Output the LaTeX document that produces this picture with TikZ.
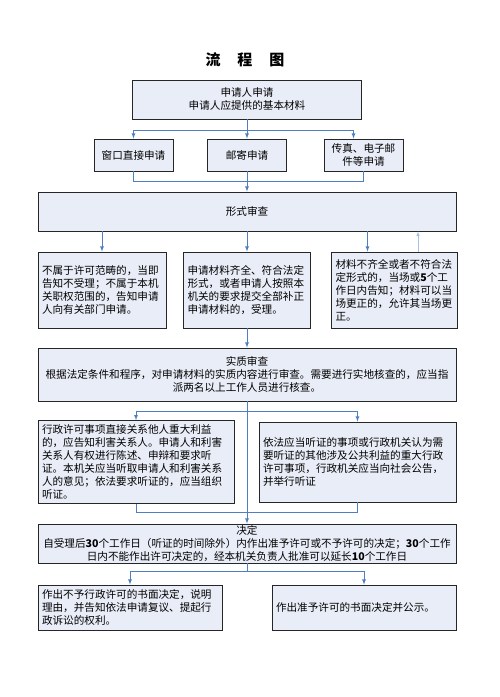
\documentclass[tikz,border=0pt]{standalone}
\usepackage{fontspec}
\setmainfont{Noto Sans CJK SC}
\definecolor{boxfill}{HTML}{E9EDF7}
\definecolor{linkblue}{HTML}{4F7FC0}
\definecolor{backblue}{HTML}{A8C0E4}

\begin{document}
\begin{tikzpicture}[x=1pt,y=-1pt,>=latex,
  box/.style={draw=black!85,line width=0.8pt,fill=boxfill,inner sep=4pt,font=\fontsize{10.6}{13}\selectfont},
  lbox/.style={box,align=left},
  cbox/.style={box,align=center},
  link/.style={draw=linkblue,line width=0.8pt}]
\useasboundingbox (0,0) rectangle (499,697);
% title
\node (T) at (245,60) {\fontsize{15}{18}\selectfont\bfseries 流\hspace{17pt}程\hspace{17pt}图};
% boxes
\node (P) [cbox,minimum width=229pt,minimum height=39pt] at (247,99.5) {申请人申请\\申请人应提供的基本材料};
\node (W) [cbox,minimum width=79pt,minimum height=32pt] at (133.5,155) {窗口直接申请};
\node (M) [cbox,minimum width=79pt,minimum height=32pt] at (247,155) {邮寄申请};
\node (X) [cbox,minimum width=79pt,minimum height=32pt] at (363.5,155) {传真、电子邮\\件等申请};
\node (R) [cbox,minimum width=418pt,minimum height=39pt] at (247,211.5) {形式审查};
\node (A) [lbox,text width=120pt,minimum height=76pt] at (102,290) {不属于许可范畴的，当即\\告知不受理；不属于本机\\关职权范围的，告知申请\\人向有关部门申请。};
\node (B) [lbox,text width=119pt,minimum height=76pt] at (247,290) {申请材料齐全、符合法定\\形式，或者申请人按照本\\机关的要求提交全部补正\\申请材料的，受理。};
\node (C) [lbox,text width=118pt,minimum height=76pt] at (394.5,290) {材料不齐全或者不符合法\\定形式的，当场或\textbf{5}个工\\作日内告知；材料可以当\\场更正的，允许其当场更\\正。};
\node (S) [cbox,minimum width=418pt,minimum height=53pt] at (247,374.5) {实质审查\\根据法定条件和程序，对申请材料的实质内容进行审查。需要进行实地核查的，应当指\\派两名以上工作人员进行核查。};
\node (D) [lbox,text width=188pt,minimum height=80pt] at (136,462) {行政许可事项直接关系他人重大利益\\的，应告知利害关系人。申请人和利害\\关系人有权进行陈述、申辩和要求听\\证。本机关应当听取申请人和利害关系\\人的意见；依法要求听证的，应当组织\\听证。};
\node (E) [lbox,text width=189pt,minimum height=80pt] at (357.5,462) {依法应当听证的事项或行政机关认为需\\要听证的其他涉及公共利益的重大行政\\许可事项，行政机关应当向社会公告，\\并举行听证};
\node (J) [cbox,inner sep=1pt,minimum width=418pt,minimum height=39pt] at (247,543.5) {决定\\自受理后\textbf{30}个工作日（听证的时间除外）内作出准予许可或不予许可的决定；\textbf{30}个工作\\日内不能作出许可决定的，经本机关负责人批准可以延长\textbf{10}个工作日};
\node (N) [lbox,text width=176pt,minimum height=45pt] at (130,607.5) {作出不予行政许可的书面决定，说明\\理由，并告知依法申请复议、提起行\\政诉讼的权利。};
\node (Y) [lbox,text width=176pt,minimum height=45pt] at (364,607.5) {作出准予许可的书面决定并公示。};
% connectors
\coordinate (s1) at (247,130);
\coordinate (m1) at (247,181);
\draw [link] (P) -- (s1);
\draw [link,->] (s1) -| (W);
\draw [link,->] (s1) -- (M);
\draw [link,->] (s1) -| ([xshift=-10pt]X.north);
\draw [link] (W) |- (m1);
\draw [link] (X) |- (m1);
\draw [link,->] (M) -- (R);
\draw [link,->] (R.south -| A.north) -- (A.north);
\draw [link,->] (R.south -| B.north) -- (B.north);
\draw [link,->] ([xshift=-27pt]C.north |- R.south) -- ([xshift=-27pt]C.north);
\draw [->,draw=backblue,line width=0.6pt] ([xshift=23.5pt]C.north) -- ([xshift=23.5pt]C.north |- R.south);
\draw [link,->] (B) -- (S);
\coordinate (s2) at (247,411);
\coordinate (m2) at (247,512);
\draw [link,->] (s2) -| (D);
\draw [link,->] (s2) -| (E);
\draw [link,->] (S) -- (J);
\draw [link] (D) |- (m2);
\draw [link] (E) |- (m2);
\coordinate (s3) at (247,571);
\draw [link] (J) -- (s3);
\draw [link,->] (s3) -| (N);
\draw [link,->] (s3) -| (Y);
\end{tikzpicture}
\end{document}
